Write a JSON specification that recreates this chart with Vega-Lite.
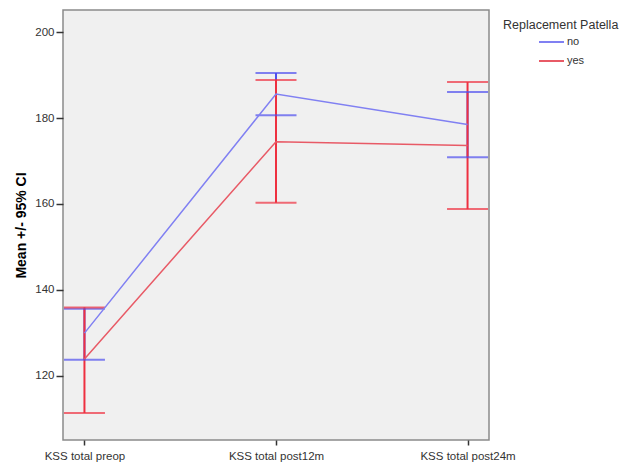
{
  "$schema": "https://vega.github.io/schema/vega-lite/v6.json",
  "autosize": "none",
  "padding": {"left": 63, "top": 10, "right": 141, "bottom": 23},
  "width": 426,
  "height": 430,
  "background": "white",
  "config": {
    "font": "Liberation Sans",
    "view": {"fill": "#f0f0f0", "stroke": "#8a8a8a", "strokeWidth": 1.5},
    "axis": {"labelFont": "Liberation Sans", "labelFontSize": 11.5, "labelColor": "#333333", "tickColor": "#333333", "domain": false, "grid": false, "tickWidth": 1.5}
  },
  "data": {
    "values": [
      {"time": "KSS total preop", "group": "no", "mean": 129.9, "lo": 123.7, "hi": 135.6},
      {"time": "KSS total post12m", "group": "no", "mean": 185.6, "lo": 180.7, "hi": 190.5},
      {"time": "KSS total post24m", "group": "no", "mean": 178.5, "lo": 170.9, "hi": 186.1},
      {"time": "KSS total preop", "group": "yes", "mean": 123.9, "lo": 111.3, "hi": 135.9},
      {"time": "KSS total post12m", "group": "yes", "mean": 174.5, "lo": 160.3, "hi": 188.9},
      {"time": "KSS total post24m", "group": "yes", "mean": 173.6, "lo": 158.8, "hi": 188.4}
    ]
  },
  "encoding": {
    "x": {
      "field": "time", "type": "nominal",
      "sort": ["KSS total preop", "KSS total post12m", "KSS total post24m"],
      "scale": {"type": "point", "padding": 0.112},
      "axis": {"title": null, "labelAngle": 0, "tickSize": 5, "labelPadding": 5}
    }
  },
  "layer": [
    {
      "mark": {"type": "rule", "strokeWidth": 2},
      "encoding": {
        "y": {"field": "lo", "type": "quantitative"},
        "y2": {"field": "hi"},
        "color": {"field": "group", "type": "nominal", "scale": {"domain": ["no", "yes"], "range": ["#4f4fee", "#ee3040"]}, "legend": null},
        "order": {"field": "group"}
      }
    },
    {
      "mark": {"type": "tick", "thickness": 2, "size": 41, "orient": "horizontal"},
      "encoding": {
        "y": {"field": "lo", "type": "quantitative"},
        "color": {"field": "group", "type": "nominal", "scale": {"domain": ["no", "yes"], "range": ["#4f4fee", "#ee3040"]}, "legend": null}
      }
    },
    {
      "mark": {"type": "tick", "thickness": 2, "size": 41, "orient": "horizontal"},
      "encoding": {
        "y": {"field": "hi", "type": "quantitative"},
        "color": {"field": "group", "type": "nominal", "scale": {"domain": ["no", "yes"], "range": ["#4f4fee", "#ee3040"]}, "legend": null}
      }
    },
    {
      "mark": {"type": "line", "strokeWidth": 1.5},
      "encoding": {
        "y": {
          "field": "mean", "type": "quantitative",
          "scale": {"domain": [105, 205.2], "nice": false, "zero": false},
          "axis": {"title": "Mean +/- 95% CI", "titleFontSize": 14, "titleFontWeight": "bold", "titleColor": "#000000", "titlePadding": 6, "values": [120, 140, 160, 180, 200], "tickSize": 7, "labelPadding": 2}
        },
        "color": {
          "field": "group", "type": "nominal",
          "scale": {"domain": ["no", "yes"], "range": ["#8080f2", "#e85a66"]},
          "legend": {
            "title": "Replacement Patella", "orient": "none", "legendX": 440, "legendY": 9,
            "titleFontSize": 12.5, "titleFontWeight": "normal", "titleColor": "#333333", "titlePadding": -3,
            "labelFontSize": 11, "labelColor": "#333333", "labelOffset": 2,
            "symbolType": "stroke", "symbolSize": 625, "symbolStrokeWidth": 2, "symbolOffset": 35, "rowPadding": -12
          }
        }
      }
    }
  ],
  "resolve": {"scale": {"color": "independent"}}
}
